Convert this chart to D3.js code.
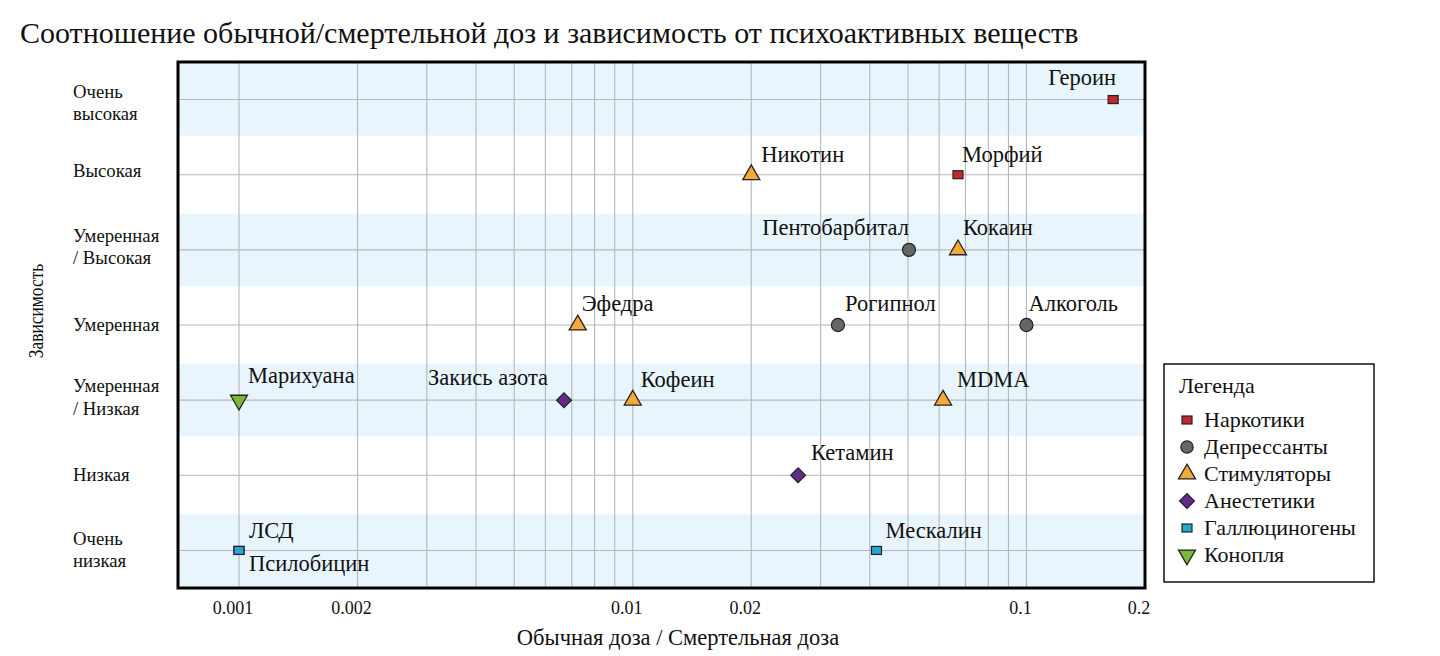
<!DOCTYPE html>
<html><head><meta charset="utf-8">
<script src="https://cdn.jsdelivr.net/npm/d3@7"></script>
<style>
html,body{margin:0;padding:0;background:#fff;}
svg{display:block;font-family:"Liberation Serif","Times New Roman",serif;}
</style></head>
<body>
<svg id="chart" width="1440" height="656"></svg>
<script>
// ---------- data ----------
const titleText = "Соотношение обычной/смертельной доз и зависимость от психоактивных веществ";
const xTitle = "Обычная доза / Смертельная доза";
const yTitle = "Зависимость";
const levelLines = [["Очень","высокая"],["Высокая"],["Умеренная","/ Высокая"],["Умеренная"],["Умеренная","/ Низкая"],["Низкая"],["Очень","низкая"]];
const xTickValues = [0.001, 0.002, 0.01, 0.02, 0.1, 0.2];
const xTickLabels = ["0.001","0.002","0.01","0.02","0.1","0.2"];
const classNames = ["Наркотики","Депрессанты","Стимуляторы","Анестетики","Галлюциногены","Конопля"];
const substances = ["Героин","Морфий","Никотин","Пентобарбитал","Кокаин","Эфедра","Рогипнол","Алкоголь","Марихуана","Закись азота","Кофеин","MDMA","Кетамин","ЛСД","Псилобицин","Мескалин"];
const ratio      = [0.166, 0.067, 0.02, 0.0503, 0.067, 0.00725, 0.0332, 0.1, 0.001, 0.00669, 0.01, 0.0614, 0.0263, 0.001, 0.001, 0.0416];
const dependence = [0, 1, 1, 2, 2, 3, 3, 3, 4, 4, 4, 4, 5, 6, 6, 6];
const substanceClass = [0, 0, 2, 1, 2, 2, 1, 1, 5, 3, 2, 2, 3, 4, 4, 4];

// ---------- styles / layout ----------
const classColors = ["#c4282d","#666666","#f6a93b","#65298a","#2aa3d6","#7ab83a"];
const classShapes = ["rect","circle","triangle","diamond","rect","triangleDown"];
// label offsets [dx, dy, anchor]
const labelPos = [[3,-15,"end"],[4,-13,"start"],[10,-13,"start"],[0,-15,"end"],[5,-15,"start"],[4,-14,"start"],[7,-14,"start"],[2,-14,"start"],[9,-17,"start"],[-16,-15,"end"],[8,-13,"start"],[14,-13,"start"],[13,-15,"start"],[10,-12,"start"],[10,21,"start"],[9,-12,"start"]];
const levelLabelDy = [[-1.5,20],[2.5],[-8,14],[5.5],[-7.7,14.6],[6],[-5,16.5]];

const svg = d3.select("#chart");
const L = 178, R = 1145, T = 62, B = 588;
const x = d3.scaleLog().domain([0.0007, 0.2]).range([L, R]);
const y = d3.scaleLinear().domain([-0.5, 6.5]).range([T, B]);

// bands
svg.append("g").selectAll("rect").data(d3.range(levelLines.length).filter(i => i % 2 === 0))
  .join("rect")
  .attr("x", L).attr("width", R - L)
  .attr("y", i => y(i - 0.48)).attr("height", i => y(i + 0.48) - y(i - 0.48))
  .attr("fill", "#e8f5fc");

// vertical grid
const gridVals = [];
[0.001, 0.01].forEach(b => { for (let k = 1; k <= 9; k++) gridVals.push(b * k); });
gridVals.push(0.1);
svg.append("g").selectAll("line").data(gridVals).join("line")
  .attr("x1", d => x(d)).attr("x2", d => x(d))
  .attr("y1", T).attr("y2", B)
  .attr("stroke", "#b4b8bc").attr("stroke-width", 1.1);

// horizontal grid
svg.append("g").selectAll("line").data(d3.range(levelLines.length)).join("line")
  .attr("x1", L).attr("x2", R)
  .attr("y1", i => y(i)).attr("y2", i => y(i))
  .attr("stroke", "#b4b8bc").attr("stroke-width", 1.1);

// frame
svg.append("rect").attr("x", L).attr("y", T).attr("width", R - L).attr("height", B - T)
  .attr("fill", "none").attr("stroke", "#000").attr("stroke-width", 3);

// marker drawing
function drawMarker(g, shape, color, legend) {
  const st = "#222";
  if (shape === "rect") {
    g.append("rect").attr("x", -5).attr("y", -4).attr("width", 10).attr("height", 8)
      .attr("fill", color).attr("stroke", st).attr("stroke-width", 1.2);
  } else if (shape === "circle") {
    g.append("path").attr("d", d3.symbol(d3.symbolCircle, legend ? 120 : 135)())
      .attr("fill", color).attr("stroke", st).attr("stroke-width", 1.2);
  } else if (shape === "triangle") {
    g.append("path").attr("d", d3.symbol(d3.symbolTriangle, 125)())
      .attr("fill", color).attr("stroke", st).attr("stroke-width", 1.3);
  } else if (shape === "triangleDown") {
    g.append("path").attr("d", d3.symbol(d3.symbolTriangle, 125)()).attr("transform", "rotate(180)")
      .attr("fill", color).attr("stroke", st).attr("stroke-width", 1.3);
  } else if (shape === "diamond") {
    g.append("path").attr("d", d3.symbol(d3.symbolSquare, 110)()).attr("transform", "rotate(45)")
      .attr("fill", color).attr("stroke", st).attr("stroke-width", 1.2);
  }
}

// points
const pts = svg.append("g");
substances.forEach((s, i) => {
  const g = pts.append("g").attr("transform", `translate(${x(ratio[i])},${y(dependence[i])})`);
  drawMarker(g, classShapes[substanceClass[i]], classColors[substanceClass[i]], false);
});
// labels
const lab = svg.append("g").attr("font-size", 22.5).attr("fill", "#111");
substances.forEach((s, i) => {
  const p = labelPos[i];
  lab.append("text").attr("x", x(ratio[i]) + p[0]).attr("y", y(dependence[i]) + p[1])
    .attr("text-anchor", p[2]).text(s);
});

// y level labels
const yl = svg.append("g").attr("font-size", 18.7).attr("fill", "#111");
levelLines.forEach((lines, i) => {
  lines.forEach((t, j) => {
    yl.append("text").attr("x", 73).attr("y", y(i) + levelLabelDy[i][j]).text(t);
  });
});

// x tick labels
svg.append("g").attr("font-size", 18).attr("fill", "#111").selectAll("text")
  .data(xTickValues).join("text")
  .attr("x", d => x(d) - 6).attr("y", 614).attr("text-anchor", "middle")
  .text((d, i) => xTickLabels[i]);

// axis titles
svg.append("text").attr("x", 678).attr("y", 645).attr("text-anchor", "middle")
  .attr("font-size", 22.5).attr("fill", "#111").text(xTitle);
svg.append("text").attr("transform", "translate(43,311) rotate(-90) scale(0.87,1)").attr("text-anchor", "middle")
  .attr("font-size", 20).attr("fill", "#111").text(yTitle);

// title
svg.append("text").attr("x", 20).attr("y", 43).attr("font-size", 30).attr("fill", "#111").text(titleText);

// legend
const lg = svg.append("g");
lg.append("rect").attr("x", 1164).attr("y", 364).attr("width", 210).attr("height", 218)
  .attr("fill", "#fff").attr("stroke", "#111").attr("stroke-width", 1.5);
lg.append("text").attr("x", 1179).attr("y", 393).attr("font-size", 22).attr("fill", "#111").text("Легенда");
classNames.forEach((c, i) => {
  const cy = 420 + i * 27;
  const g = lg.append("g").attr("transform", `translate(1187,${cy})`);
  drawMarker(g, classShapes[i], classColors[i], true);
  lg.append("text").attr("x", 1204).attr("y", cy + 7).attr("font-size", 22).attr("fill", "#111").text(c);
});
</script>
</body></html>
